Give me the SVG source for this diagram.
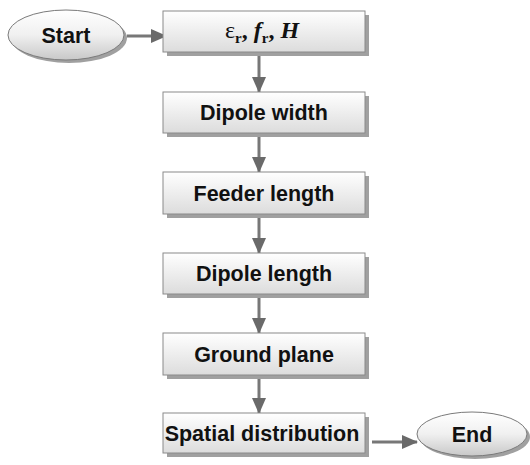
<svg xmlns="http://www.w3.org/2000/svg" width="530" height="465" viewBox="0 0 530 465">
<defs>
<linearGradient id="bg" x1="0" y1="0" x2="0" y2="1"><stop offset="0" stop-color="#ffffff"/><stop offset="1" stop-color="#dcdcdc"/></linearGradient>
<linearGradient id="eg" x1="0" y1="0" x2="0" y2="1"><stop offset="0" stop-color="#ffffff"/><stop offset="0.5" stop-color="#f0f0f0"/><stop offset="1" stop-color="#c8c8c8"/></linearGradient>
<marker id="ah" markerWidth="16" markerHeight="14" refX="15" refY="7" orient="auto" markerUnits="userSpaceOnUse"><path d="M0,0 L16,7 L0,14 Z" fill="#6a6a6a"/></marker>
</defs>
<style>
.box{fill:url(#bg);stroke:#8a8a8a;stroke-width:1}
.sh{fill:#a0a0a0}
.el{fill:url(#eg);stroke:#7a7a7a;stroke-width:1}
.t{font-family:"Liberation Sans",Arial,sans-serif;font-weight:bold;font-size:21.5px;fill:#111;text-anchor:middle}
.c{stroke:#777;stroke-width:3;fill:none;marker-end:url(#ah)}
</style>
<g id="connectors">
<line class="c" x1="127" y1="36" x2="166" y2="36"/>
<line class="c" x1="259" y1="53" x2="259" y2="92"/>
<line class="c" x1="259" y1="134" x2="259" y2="172"/>
<line class="c" x1="259" y1="215" x2="259" y2="253"/>
<line class="c" x1="259" y1="295" x2="259" y2="333"/>
<line class="c" x1="259" y1="376" x2="259" y2="413"/>
<line class="c" x1="372" y1="442" x2="417" y2="442"/>
</g>
<g id="start">
<ellipse cx="69" cy="38" rx="58" ry="25" class="sh"/>
<ellipse cx="66" cy="35" rx="58" ry="25" class="el"/>
<text x="66" y="43" class="t">Start</text>
</g>
<g id="params">
<rect x="167" y="15" width="202" height="41" class="sh"/>
<rect x="163" y="11" width="202" height="41" class="box"/>
<text x="262" y="38" font-family="'Liberation Serif','Times New Roman',serif" font-size="24" font-weight="bold" text-anchor="middle" fill="#111"><tspan font-weight="normal">ε</tspan><tspan font-size="15" dy="5">r</tspan><tspan dy="-5">, </tspan><tspan font-style="italic">f</tspan><tspan font-size="15" dy="5">r</tspan><tspan dy="-5">, </tspan><tspan font-style="italic">H</tspan></text>
</g>
<g id="dipole-width">
<rect x="167" y="96" width="202" height="41" class="sh"/>
<rect x="163" y="92" width="202" height="41" class="box"/>
<text x="264" y="120" class="t">Dipole width</text>
</g>
<g id="feeder-length">
<rect x="167" y="176" width="202" height="42" class="sh"/>
<rect x="163" y="172" width="202" height="42" class="box"/>
<text x="264" y="201" class="t">Feeder length</text>
</g>
<g id="dipole-length">
<rect x="167" y="257" width="202" height="41" class="sh"/>
<rect x="163" y="253" width="202" height="41" class="box"/>
<text x="264" y="281" class="t">Dipole length</text>
</g>
<g id="ground-plane">
<rect x="167" y="337" width="202" height="42" class="sh"/>
<rect x="163" y="333" width="202" height="42" class="box"/>
<text x="264" y="362" class="t">Ground plane</text>
</g>
<g id="spatial">
<rect x="167" y="417" width="202" height="40" class="sh"/>
<rect x="163" y="413" width="202" height="40" class="box"/>
<text x="262" y="441" class="t">Spatial distribution</text>
</g>
<g id="end">
<ellipse cx="475" cy="437" rx="55" ry="22" class="sh"/>
<ellipse cx="472" cy="434" rx="55" ry="22" class="el"/>
<text x="472" y="442" class="t">End</text>
</g>
</svg>
